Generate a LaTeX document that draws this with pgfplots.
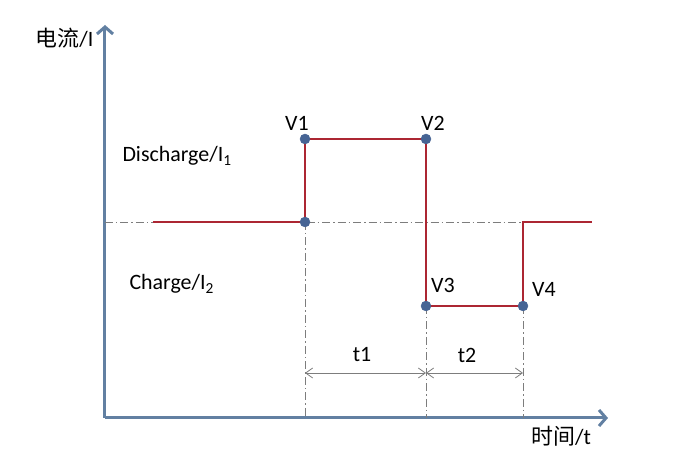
\documentclass[border=0pt]{standalone}
\usepackage{pgfplots}
\pgfplotsset{compat=1.18}
\usetikzlibrary{arrows.meta}
\usepackage{fontspec}
\setmainfont{Carlito}
\newfontfamily\cjk{Noto Sans CJK SC}
\definecolor{axisblue}{RGB}{98,128,162}
\definecolor{redline}{RGB}{172,38,50}
\definecolor{dotblue}{RGB}{70,100,148}
\definecolor{guide}{RGB}{125,125,125}
\begin{document}
\begin{tikzpicture}
\begin{axis}[
  scale only axis, width=503bp, height=393bp,
  xmin=0, xmax=503, ymin=0, ymax=393,
  axis lines=left, ticks=none, clip=false,
  axis line style={line width=3bp, color=axisblue, -{Straight Barb[length=7bp,width=16bp,line width=3bp]}},
  font=\fontsize{22}{26}\selectfont,
]
% guide lines (dash-dot)
\addplot[guide, line width=0.8bp, dash pattern=on 8bp off 3bp on 1.5bp off 3bp] coordinates {(0,196) (418,196)};
\addplot[guide, line width=0.8bp, dash pattern=on 8bp off 3bp on 1.5bp off 3bp] coordinates {(200,196) (200,0)};
\addplot[guide, line width=0.8bp, dash pattern=on 8bp off 3bp on 1.5bp off 3bp] coordinates {(321,112) (321,0)};
\addplot[guide, line width=0.8bp, dash pattern=on 8bp off 3bp on 1.5bp off 3bp] coordinates {(418,112) (418,0)};
% dimension arrows
\addplot[guide, line width=0.8bp, {Straight Barb[length=7bp,width=10bp]}-{Straight Barb[length=7bp,width=10bp]}] coordinates {(200,45) (321,45)};
\addplot[guide, line width=0.8bp, {Straight Barb[length=7bp,width=10bp]}-{Straight Barb[length=7bp,width=10bp]}] coordinates {(321,45) (418,45)};
% current waveform
\addplot[redline, line width=2.5bp] coordinates {(48,196) (200,196) (200,279) (321,279) (321,112) (418,112) (418,196) (487,196)};
% points
\addplot[only marks, mark=*, mark size=5bp, mark options={fill=dotblue, draw=dotblue}] coordinates {(200,196) (200,279) (321,279) (321,112) (418,112)};
% labels
\node[anchor=west] at (axis cs:-73,380) {{\cjk 电流}/I};
\node[anchor=west, inner sep=1bp] at (axis cs:425,-18) {{\cjk 时间}/t};
\node[anchor=base west] at (axis cs:14,256) {Discharge/I\textsubscript{1}};
\node[anchor=base west] at (axis cs:21,128) {Charge/I\textsubscript{2}};
\node at (axis cs:192,295) {V1};
\node at (axis cs:328,295) {V2};
\node at (axis cs:338,133) {V3};
\node at (axis cs:439,129) {V4};
\node at (axis cs:257,63) {t1};
\node at (axis cs:362,63) {t2};
\coordinate (bbl) at (axis cs:-105,-33);
\coordinate (btr) at (axis cs:574,418);
\end{axis}
\pgfresetboundingbox
\path[use as bounding box] (bbl) rectangle (btr);
\end{tikzpicture}
\end{document}
